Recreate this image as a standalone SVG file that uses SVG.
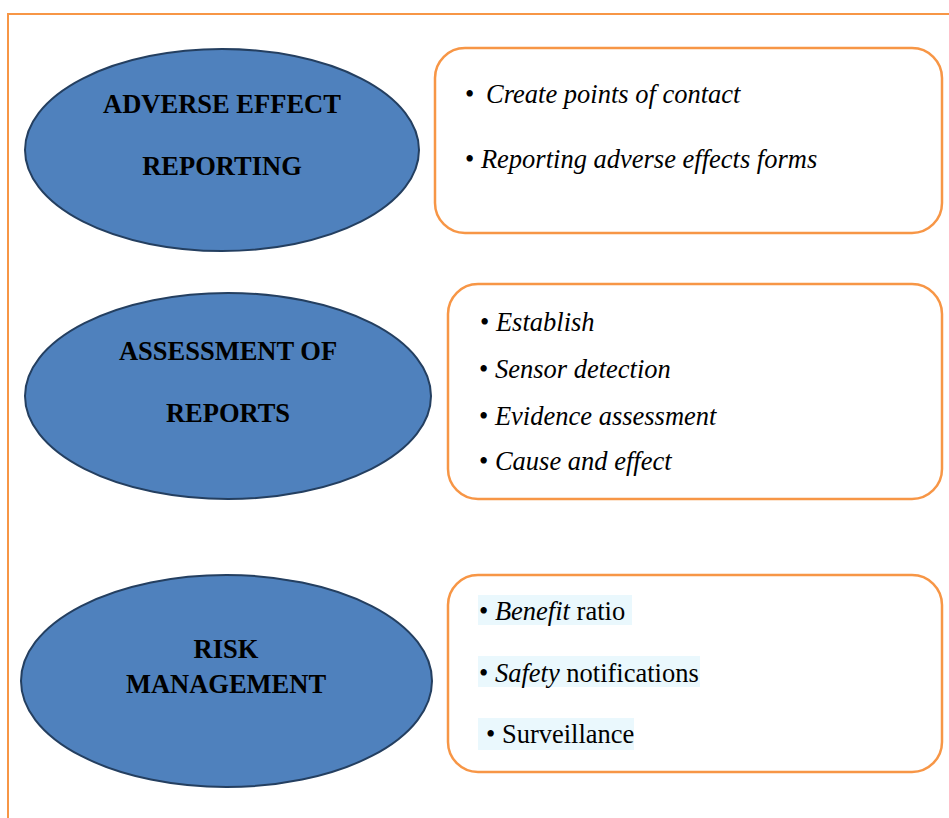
<svg xmlns="http://www.w3.org/2000/svg" width="949" height="818" viewBox="0 0 949 818">
  <style>
    .frame { fill: none; stroke: #F79646; stroke-width: 2; }
    .oval { fill: #4F81BD; stroke: #243F60; stroke-width: 2; }
    .box { fill: #FFFFFF; stroke: #F79646; stroke-width: 2.5; }
    .head { font-family: "Liberation Serif", "Times New Roman", serif; font-weight: bold; font-size: 26.5px; fill: #000; text-anchor: middle; }
    .item { font-family: "Liberation Serif", "Times New Roman", serif; font-size: 26.5px; fill: #000; }
    .it { font-style: italic; }
    .mark { fill: #EAF8FD; }
  </style>
  <rect width="949" height="818" fill="#FFFFFF"/>
  <!-- page frame: top and left rules -->
  <path class="frame" d="M8,818 V14 H949"/>

  <g id="connectors"></g>

  <g id="adverse-effect-reporting">
    <ellipse class="oval" cx="222" cy="150" rx="197" ry="101"/>
    <text class="head" x="222" y="113">ADVERSE EFFECT</text>
    <text class="head" x="222" y="175">REPORTING</text>
  </g>
  <g id="reporting-items">
    <rect class="box" x="435" y="48" width="507" height="185" rx="30"/>
    <text class="item" x="465" y="103" font-size="30">•</text>
    <text class="item it" x="486" y="103">Create points of contact</text>
    <text class="item" x="465" y="168">• <tspan class="it">Reporting adverse effects forms</tspan></text>
  </g>

  <g id="assessment-of-reports">
    <ellipse class="oval" cx="228" cy="396" rx="203" ry="103"/>
    <text class="head" x="228" y="360">ASSESSMENT OF</text>
    <text class="head" x="228" y="422">REPORTS</text>
  </g>
  <g id="assessment-items">
    <rect class="box" x="448" y="284" width="494" height="215" rx="30"/>
    <text class="item" x="480" y="331">• <tspan class="it">Establish</tspan></text>
    <text class="item" x="479" y="378">• <tspan class="it">Sensor detection</tspan></text>
    <text class="item" x="479" y="425">• <tspan class="it">Evidence assessment</tspan></text>
    <text class="item" x="479" y="470">• <tspan class="it">Cause and effect</tspan></text>
  </g>

  <g id="risk-management">
    <ellipse class="oval" cx="226.5" cy="681" rx="205.5" ry="106"/>
    <text class="head" x="226" y="658">RISK</text>
    <text class="head" x="226" y="693">MANAGEMENT</text>
  </g>
  <g id="risk-items">
    <rect class="box" x="448" y="575" width="494" height="197" rx="30"/>
    <rect class="mark" x="478" y="595" width="154" height="30"/>
    <rect class="mark" x="478" y="656" width="222" height="31"/>
    <rect class="mark" x="478" y="718" width="156" height="32"/>
    <text class="item" x="479" y="620">• <tspan class="it">Benefit</tspan> ratio</text>
    <text class="item" x="479" y="682">• <tspan class="it">Safety</tspan> notifications</text>
    <text class="item" x="486" y="743">• Surveillance</text>
  </g>
</svg>
